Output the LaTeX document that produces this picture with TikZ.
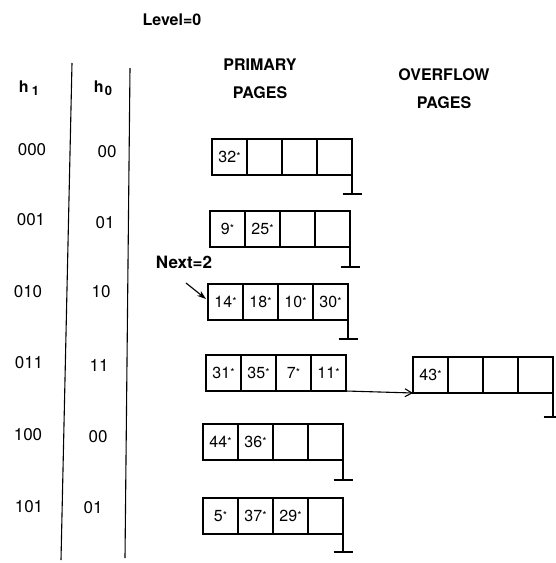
\documentclass[tikz,border=0pt]{standalone}
\usepackage{fontspec}
\setmainfont{TeX Gyre Heros}
\usetikzlibrary{arrows.meta}
\newcommand\stx{\raisebox{2pt}{\fontsize{11}{11}\selectfont *}}
\newcommand\bkt[7]{%
  \node[cell] (#1c1) at (#2,#3) {#4};
  \node[cell] (#1c2) at ({#2+35},#3) {#5};
  \node[cell] (#1c3) at ({#2+70},#3) {#6};
  \node[cell] (#1c4) at ({#2+105},#3) {#7};
}
\newcommand\gnd[3]{% cell, name, y
  \coordinate (#2) at (#1.north east |- 0,#3);
  \draw (#1.north east) -- (#2);
  \draw ([xshift=-9.5pt]#2) -- ([xshift=9.5pt]#2);
}
\begin{document}
\begin{tikzpicture}[x=1pt,y=-1pt,line width=1.1pt,
  cell/.style={draw,minimum width=35pt,minimum height=36pt,inner sep=0pt,outer sep=0pt,anchor=north west,font=\fontsize{16}{16}\selectfont},
  hdr/.style={font=\bfseries\fontsize{16}{16}\selectfont,inner sep=0pt},
  lbl/.style={font=\fontsize{17}{17}\selectfont,inner sep=0pt}]
\useasboundingbox (0,0) rectangle (556,563);
% headers
\node[hdr] (lev) at (172,20) {Level=0};
\node[hdr] (pri) at (260,65) {PRIMARY};
\node[hdr] (pp) at (260,93) {PAGES};
\node[hdr] (ovf) at (444,75) {OVERFLOW};
\node[hdr] (op) at (444,103) {PAGES};
\node[hdr] (hone) at (29,88) {h\hspace{3pt}\raisebox{-3pt}{\fontsize{13}{13}\selectfont 1}};
\node[hdr] (hzero) at (103,88) {h\hspace{1pt}\raisebox{-3pt}{\fontsize{13}{13}\selectfont 0}};
% column separators
\coordinate (l1t) at (72,63); \coordinate (l1b) at (61,560);
\coordinate (l2t) at (130,68); \coordinate (l2b) at (125,558);
\draw (l1t) -- (l1b);
\draw (l2t) -- (l2b);
% row labels
\node[lbl] (ra1) at (32,150) {000};
\node[lbl] (ra2) at (31,220) {001};
\node[lbl] (ra3) at (28,292) {010};
\node[lbl] (ra4) at (29,363) {011};
\node[lbl] (ra5) at (28,435) {100};
\node[lbl] (ra6) at (29,507) {101};
\node[lbl] (rb1) at (107,152) {00};
\node[lbl] (rb2) at (105,223) {01};
\node[lbl] (rb3) at (101,292) {10};
\node[lbl] (rb4) at (99,365) {11};
\node[lbl] (rb5) at (98,437) {00};
\node[lbl] (rb6) at (93,508) {01};
% buckets
\bkt{ba}{212}{139}{32\stx}{}{}{}
\bkt{bb}{210}{211}{9\stx}{25\stx}{}{}
\bkt{bc}{208}{284}{14\stx}{18\stx}{10\stx}{30\stx}
\bkt{bd}{206}{355}{31\stx}{35\stx}{7\stx}{11\stx}
\bkt{be}{203}{424}{44\stx}{36\stx}{}{}
\bkt{bf}{203}{498}{5\stx}{37\stx}{29\stx}{}
\bkt{of}{413}{357}{43\stx}{}{}{}
% grounds
\gnd{bac4}{ga}{194}
\gnd{bbc4}{gb}{267}
\gnd{bcc4}{gc}{339}
\gnd{bec4}{ge}{480}
\gnd{bfc4}{gf}{552}
\gnd{ofc4}{go}{417}
% overflow pointer
\draw[-{Straight Barb[length=7pt,width=8pt]}] (bdc4.south east) -- (ofc1.south west);
% next pointer
\node[hdr,font=\bfseries\fontsize{17}{17}\selectfont] (nxt) at (184,262) {Next=2};
\coordinate (nxs) at (186,283);
\draw[-{Stealth[length=9pt,width=6pt]}] (nxs) -- ([xshift=-2pt,yshift=3pt]bcc1.west);
\end{tikzpicture}
\end{document}
